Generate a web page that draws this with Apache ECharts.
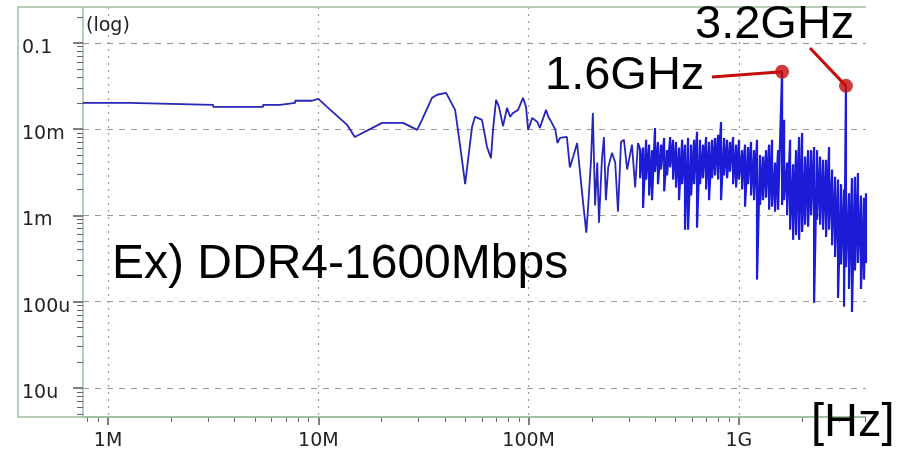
<!DOCTYPE html>
<html>
<head>
<meta charset="utf-8">
<script src="https://cdn.jsdelivr.net/npm/echarts@6/dist/echarts.min.js"></script>
<style>
  html, body { margin: 0; padding: 0; background: #fff; }
  #chart { width: 901px; height: 452px; }
</style>
</head>
<body>
<div id="chart"></div>
<script>
// smooth part of the spectrum, frequency in MHz, level in V (log)
var lowFreq = [0.76, 1.245, 1.245, 3.16, 3.16, 5.46, 5.46, 6.58, 6.58, 7.75,
  7.75, 9.33, 9.33, 10.0, 11.0, 13.7, 14.9, 20.1, 25.3, 29.5,
  31.1, 34.7, 36.7, 40.5, 44.7, 46.1, 48.2, 49.9, 51.5, 53.8,
  55.6, 60.0, 63.4, 66.2, 67.7, 70.0, 72.3, 75.5, 78.9, 81.6,
  84.3, 89.1, 94.0, 97.2, 99.4, 104, 110, 113, 121, 124,
  129, 134, 137, 141, 152, 157, 163, 170, 175, 181,
  188, 192, 198, 202, 207, 212, 216, 223, 228, 233,
  239, 249, 258, 266, 275, 284, 294, 310, 321, 331];
var lowLevel = [0.0201, 0.0201, 0.0191, 0.0191, 0.0181, 0.0181, 0.0191, 0.0191, 0.0201, 0.0201,
  0.0213, 0.0213, 0.0218, 0.0224, 0.0181, 0.0112, 0.0081, 0.0118, 0.0118, 0.0098,
  0.0128, 0.0230, 0.0250, 0.0263, 0.0167, 0.0098, 0.0044, 0.0023, 0.0044, 0.0106,
  0.0139, 0.0128, 0.0062, 0.0046, 0.0098, 0.0218, 0.0181, 0.0108, 0.0176, 0.0139,
  0.0154, 0.0167, 0.0230, 0.0181, 0.0098, 0.0135, 0.0121, 0.0103, 0.0167, 0.0139,
  0.0118, 0.0098, 0.0069, 0.0079, 0.0081, 0.0036, 0.0048, 0.0069, 0.0034, 0.0015,
  0.00063, 0.0013, 0.0044, 0.0154, 0.0013, 0.0041, 0.00082, 0.0044, 0.0081, 0.0015,
  0.0036, 0.0053, 0.0041, 0.0011, 0.0071, 0.0075, 0.0034, 0.0066, 0.0021, 0.0069];

// dense noisy part above ~340 MHz: upper and lower reading per column (MHz)
var bandFreq = [339, 350, 362, 374, 386, 399, 412, 426, 441, 455,
  471, 486, 502, 519, 537, 554, 573, 592, 612, 632,
  653, 675, 698, 721, 745, 770, 796, 822, 850, 878,
  907, 938, 969, 1001, 1035, 1069, 1105, 1142, 1180, 1219,
  1260, 1302, 1346, 1391, 1437, 1485, 1535, 1604, 1640, 1694,
  1751, 1809, 1870, 1932, 1997, 2063, 2132, 2203, 2277, 2353,
  2431, 2512, 2596, 2683, 2772, 2865, 2960, 3059, 3161, 3228,
  3336, 3447, 3562, 3681, 3804, 3931, 4020];
var bandHi = [0.0057, 0.0061, 0.0075, 0.0066, 0.0057, 0.0103, 0.0071, 0.0066, 0.0079, 0.0057,
  0.0081, 0.0075, 0.0071, 0.0061, 0.0075, 0.0066, 0.0079, 0.0066, 0.0075, 0.0093,
  0.0075, 0.0066, 0.0081, 0.0071, 0.0075, 0.0079, 0.0086, 0.0121, 0.0079, 0.0075,
  0.0071, 0.0081, 0.0066, 0.0075, 0.0057, 0.0066, 0.0062, 0.0071, 0.0057, 0.0075,
  0.0050, 0.0048, 0.0057, 0.0066, 0.0075, 0.0041, 0.0057, 0.0461, 0.0128, 0.0041,
  0.0075, 0.0039, 0.0057, 0.0081, 0.0090, 0.0048, 0.0057, 0.0057, 0.0062, 0.0057,
  0.0048, 0.0044, 0.0044, 0.0062, 0.0034, 0.0028, 0.0026, 0.0023, 0.0020, 0.0317,
  0.0018, 0.0027, 0.0028, 0.0031, 0.0017, 0.0016, 0.0018];
var bandLo = [0.0027, 0.00122, 0.0026, 0.0017, 0.0015, 0.0032, 0.0023, 0.0034, 0.0019, 0.0029,
  0.0036, 0.0026, 0.0021, 0.0015, 0.0023, 0.00068, 0.00068, 0.0017, 0.0023, 0.00072,
  0.0023, 0.0027, 0.0020, 0.0015, 0.0027, 0.0029, 0.0026, 0.0015, 0.0029, 0.0027,
  0.0032, 0.0023, 0.0021, 0.0026, 0.0020, 0.00126, 0.0023, 0.0017, 0.0015, 0.00018,
  0.00132, 0.0015, 0.0016, 0.00116, 0.00126, 0.0011, 0.00116, 0.00132, 0.0015, 0.0010,
  0.00068, 0.00052, 0.00059, 0.00052, 0.00064, 0.00078, 0.00074, 0.0010, 0.000097, 0.00089,
  0.00078, 0.00068, 0.00056, 0.00068, 0.00045, 0.00033, 0.00011, 0.00027, 0.000087, 0.00025,
  0.00014, 0.000076, 0.00023, 0.00028, 0.00014, 0.00018, 0.00028];

var peakFreq = [1604, 3228];
var peakLevel = [0.0461, 0.0317];

var xTicks = [1e6, 1e7, 1e8, 1e9];
var xTickLabels = ['1M', '10M', '100M', '1G'];
var yTicks = [1e-5, 1e-4, 1e-3, 1e-2, 1e-1];
var yTickLabels = ['10u', '100u', '1m', '10m', '0.1'];

var xMin = 0.76e6, xMax = 4.02e9;
var yMin = 4.6e-6, yMax = 0.26;

var frameColor = '#9dbf9d';
var lineColor = '#2626b8';
var bandColor = '#1c1cd6';
var red = '#c40a0a';

function minorTicks(lo, hi) {
  var res = [];
  for (var e = Math.floor(Math.log10(lo)); e <= Math.ceil(Math.log10(hi)); e++) {
    for (var d = 2; d <= 9; d++) {
      var v = d * Math.pow(10, e);
      if (v > lo && v < hi) res.push(v);
    }
  }
  return res;
}

function tickName(ticks, names) {
  return function (v) {
    for (var i = 0; i < ticks.length; i++) {
      if (Math.abs(Math.log10(ticks[i]) - Math.log10(v)) < 1e-6) return names[i];
    }
    return '';
  };
}

var lowData = [];
for (var i = 0; i < lowFreq.length; i++) {
  lowData.push([lowFreq[i] * 1e6, lowLevel[i]]);
}
// band starts from the last smooth point so the trace stays joined
var bandData = [lowData[lowData.length - 1]];
for (var j = 0; j < bandFreq.length; j++) {
  bandData.push([bandFreq[j] * 1e6, bandHi[j]]);
  bandData.push([bandFreq[j] * 1e6, bandLo[j]]);
}
var peakData = peakFreq.map(function (f, k) {
  return [f * 1e6, peakLevel[k]];
});

var myChart = echarts.init(document.getElementById('chart'));

var option = {
  animation: false,
  backgroundColor: '#fff',
  grid: { left: 83, top: 7, right: 35, bottom: 35 },
  xAxis: [
    {
      type: 'log', logBase: 10, min: xMin, max: xMax, position: 'bottom',
      axisLine: { lineStyle: { color: frameColor, width: 1.5 } },
      axisTick: { customValues: xTicks, length: 8, lineStyle: { color: '#555', width: 1.5 } },
      axisLabel: {
        customValues: xTicks, formatter: tickName(xTicks, xTickLabels),
        margin: 15, fontSize: 19, fontFamily: 'DejaVu Sans', color: '#222'
      },
      splitLine: { show: true, lineStyle: { color: '#9a9a9a', type: [2, 5], width: 1.2 } }
    },
    {
      type: 'log', logBase: 10, min: xMin, max: xMax, position: 'bottom', offset: 0,
      axisLine: { show: false },
      axisTick: { show: true, customValues: minorTicks(xMin, xMax), length: 5, lineStyle: { color: '#666' } },
      axisLabel: { show: false },
      splitLine: { show: false }
    }
  ],
  yAxis: [
    {
      type: 'log', logBase: 10, min: yMin, max: yMax, position: 'left',
      axisLine: { show: true, lineStyle: { color: frameColor, width: 1.5 } },
      axisTick: { customValues: yTicks, length: 10, lineStyle: { color: '#555', width: 1.5 } },
      axisLabel: {
        customValues: yTicks, formatter: tickName(yTicks, yTickLabels),
        align: 'left', verticalAlign: 'top', lineHeight: 10, margin: 61,
        fontSize: 19, fontFamily: 'DejaVu Sans', color: '#222'
      },
      splitLine: { show: true, lineStyle: { color: '#9a9a9a', type: [6, 6], width: 1.2 } }
    },
    {
      type: 'log', logBase: 10, min: yMin, max: yMax, position: 'left', offset: 0,
      axisLine: { show: false, onZero: false },
      axisTick: { show: true, customValues: minorTicks(yMin, yMax), length: 6, lineStyle: { color: '#666', width: 1 } },
      axisLabel: { show: false },
      splitLine: { show: false }
    }
  ],
  series: [
    {
      type: 'line',
      data: lowData,
      showSymbol: false,
      symbol: 'none',
      lineStyle: { color: lineColor, width: 1.8 },
      z: 3
    },
    {
      type: 'line',
      data: bandData,
      showSymbol: false,
      symbol: 'none',
      lineStyle: { color: bandColor, width: 2.2 },
      z: 3
    },
    {
      type: 'scatter',
      data: peakData,
      symbolSize: 14,
      itemStyle: { color: red },
      z: 5
    }
  ],
  graphic: [
    {
      type: 'polyline', silent: true, z: 10,
      shape: { points: [[866, 7], [18, 7], [18, 417], [866, 417]] },
      style: { stroke: frameColor, lineWidth: 1.5, fill: null }
    },
    {
      type: 'text', left: 86, top: 17, z: 10,
      style: { text: '(log)', font: '19px "DejaVu Sans"', fill: '#222' }
    },
    {
      type: 'text', x: 112, y: 265, z: 10,
      style: { text: 'Ex) DDR4-1600Mbps', font: '48px "Liberation Sans"', fill: '#000', verticalAlign: 'middle' }
    },
    {
      type: 'text', x: 545, y: 76, z: 10,
      style: { text: '1.6GHz', font: '47px "Liberation Sans"', fill: '#000', verticalAlign: 'middle' }
    },
    {
      type: 'text', x: 695, y: 25, z: 10,
      style: { text: '3.2GHz', font: '47px "Liberation Sans"', fill: '#000', verticalAlign: 'middle' }
    },
    {
      type: 'text', x: 811, y: 423, z: 10,
      style: { text: '[Hz]', font: '47px "Liberation Sans"', fill: '#000', verticalAlign: 'middle' }
    }
  ]
};

myChart.setOption(option);

// leader lines from the labels to the marked peaks
var p1 = myChart.convertToPixel({ xAxisIndex: 0, yAxisIndex: 0 }, peakData[0]);
var p2 = myChart.convertToPixel({ xAxisIndex: 0, yAxisIndex: 0 }, peakData[1]);
myChart.setOption({
  graphic: [
    {
      type: 'line', id: 'lead1', silent: true, z: 4,
      shape: { x1: 712, y1: 77, x2: p1[0], y2: p1[1] },
      style: { stroke: red, lineWidth: 3 }
    },
    {
      type: 'line', id: 'lead2', silent: true, z: 4,
      shape: { x1: 810, y1: 48, x2: p2[0], y2: p2[1] },
      style: { stroke: red, lineWidth: 3 }
    }
  ]
});

window.addEventListener('resize', function () {
  myChart.resize();
});
</script>
</body>
</html>
